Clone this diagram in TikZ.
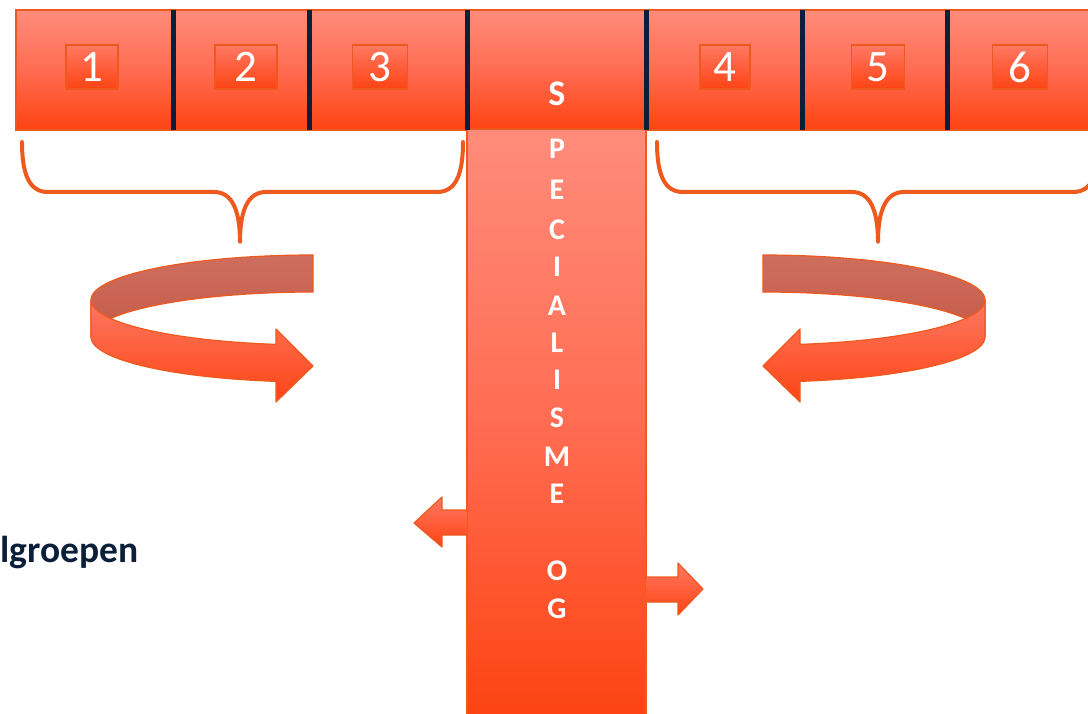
\documentclass[tikz,border=0pt]{standalone}
\usepackage{fontspec}
\setmainfont{Carlito}
\definecolor{barTop}{HTML}{FF8C7A}
\definecolor{barMid}{HTML}{FF6C52}
\definecolor{barBot}{HTML}{FD4311}
\definecolor{edgeOr}{HTML}{EE5A1E}
\definecolor{navy}{HTML}{0B1F3A}
\definecolor{backTop}{HTML}{CF6E5E}
\definecolor{backBot}{HTML}{C45A48}
\definecolor{frontTop}{HTML}{FF7862}
\definecolor{frontBot}{HTML}{FD4414}
\tikzset{
  barbox/.style={draw=edgeOr, line width=1.2pt, top color=barTop, bottom color=barBot, middle color=barMid, inner sep=0pt, outer sep=0pt},
  numbox/.style={draw=edgeOr, line width=1.8pt, top color=frontTop, bottom color=frontBot, inner sep=0pt},
  digit/.style={text=white, font=\fontsize{45}{45}\selectfont, inner sep=0pt},
  vletter/.style={text=white, font=\fontsize{30}{30}\selectfont\bfseries, inner sep=0pt},
  divider/.style={draw=navy, line width=5pt},
  bracestyle/.style={draw=edgeOr, line width=4pt, line cap=round, line join=round},
  backband/.style={draw=edgeOr, line width=1.2pt, top color=backTop, bottom color=backBot},
  frontband/.style={draw=edgeOr, line width=1.2pt, top color=frontTop, bottom color=frontBot, line join=round},
  smallarrow/.style={draw=edgeOr, line width=1.2pt, top color=frontTop, bottom color=frontBot, line join=round},
}
\newcommand{\turnarrow}{%
  \path[backband] plot[domain=90:180, samples=40] ({222*cos(\x)},{-45*sin(\x)})
     -- plot[domain=180:90, samples=40] ({222*cos(\x)},{37-45*sin(\x)}) -- cycle;
  \path[frontband] plot[domain=180:260.4, samples=40] ({222*cos(\x)},{-45*sin(\x)})
     -- (-37,29) -- (0,66) -- (-37,102) -- (-37,81.4)
     -- plot[domain=260.4:180, samples=40] ({222*cos(\x)},{37-45*sin(\x)}) -- cycle;
}
\begin{document}
\begin{tikzpicture}[x=1pt, y=-1pt]
\useasboundingbox (0,0) rectangle (1088,714);
\clip (0,0) rectangle (1088,714);

% top bar
\node[barbox, minimum width=1076pt, minimum height=120pt, anchor=north west] (bar) at (16,10) {};
% vertical bar
\node[barbox, minimum width=179pt, minimum height=590pt, anchor=north west] (vbar) at (467,129) {};

% dividers
\foreach \dx [count=\i] in {173,309,467,646,802,947}
  \draw[divider] (\dx,10) coordinate (dt\i) -- (\dx,130) coordinate (db\i);

% number boxes
\node[numbox, minimum width=52pt, minimum height=44pt] (b1) at (92,67) {};
\node[digit] (n1) at (b1.center) {1};
\node[numbox, minimum width=62pt, minimum height=44pt] (b2) at (246,67) {};
\node[digit] (n2) at (b2.center) {2};
\node[numbox, minimum width=55pt, minimum height=44pt] (b3) at (380,67) {};
\node[digit] (n3) at (b3.center) {3};
\node[numbox, minimum width=50pt, minimum height=44pt] (b4) at (725,67) {};
\node[digit] (n4) at (b4.center) {4};
\node[numbox, minimum width=53pt, minimum height=44pt] (b5) at (878,67) {};
\node[digit] (n5) at (b5.center) {5};
\node[numbox, minimum width=55pt, minimum height=44pt] (b6) at (1020,67) {};
\node[digit] (n6) at (b6.center) {6};

% vertical word
\node[vletter, font=\fontsize{36}{36}\selectfont\bfseries] (l0) at (557,94) {S};
\node[vletter] (l1) at (557,149) {P};
\node[vletter] (l2) at (557,190) {E};
\node[vletter] (l3) at (557,230) {C};
\node[vletter] (l4) at (557,267) {I};
\node[vletter] (l5) at (557,306) {A};
\node[vletter] (l6) at (557,343) {L};
\node[vletter] (l7) at (557,380) {I};
\node[vletter] (l8) at (557,418) {S};
\node[vletter] (l9) at (557,457) {M};
\node[vletter] (l10) at (557,494) {E};
\node[vletter] (l11) at (557,571) {O};
\node[vletter] (l12) at (557,609) {G};

% braces
\draw[bracestyle] (22,142) .. controls (22,176) and (30,192) .. (48,192) -- (214,192)
   .. controls (232,192) and (240,210) .. (240,242)
   .. controls (240,210) and (248,192) .. (266,192) -- (437,192)
   .. controls (455,192) and (463,176) .. (463,142);
\draw[bracestyle] (657,142) .. controls (657,176) and (665,192) .. (683,192) -- (852,192)
   .. controls (870,192) and (878,210) .. (878,242)
   .. controls (878,210) and (886,192) .. (904,192) -- (1073,192)
   .. controls (1091,192) and (1099,176) .. (1099,142);

% curved arrows
\begin{scope}[shift={(313,300)}]
  \turnarrow
\end{scope}
\begin{scope}[shift={(763,300)}, xscale=-1]
  \turnarrow
\end{scope}

% small arrows from the vertical bar
\path[smallarrow] (vbar.west |- 0,510) -- (442,510) -- (442,497) -- (414,523) -- (442,547) -- (442,535) -- (vbar.west |- 0,535);
\path[smallarrow] (vbar.east |- 0,577) -- (678,577) -- (678,563) -- (703,589) -- (678,615) -- (678,602) -- (vbar.east |- 0,602);

% side label
\node[anchor=base west, inner sep=0pt, text=navy, font=\fontsize{37.5}{37.5}\selectfont\bfseries] (lbl) at (0.5,562) {lgroepen};
\end{tikzpicture}
\end{document}
